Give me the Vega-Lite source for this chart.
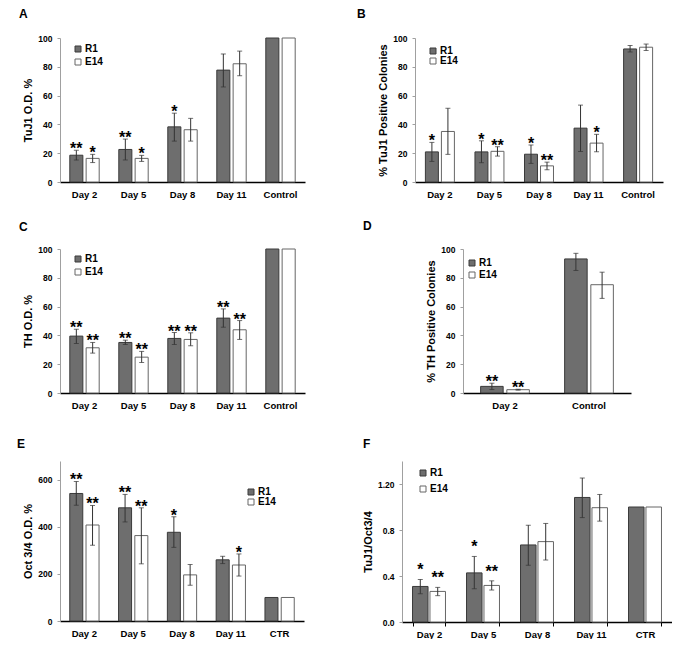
{
  "$schema": "https://vega.github.io/schema/vega-lite/v6.json",
  "padding": {"left": 17, "top": 8, "right": 0, "bottom": 0},
  "background": "white",
  "config": {
    "font": "Liberation Sans",
    "view": {"stroke": null},
    "title": {"anchor": "start", "frame": "group", "fontSize": 12, "fontWeight": "bold", "color": "black"},
    "axisX": {"domainColor": "black", "domainWidth": 1.5, "ticks": false, "labelAngle": 0, "labelFontSize": 9.5, "labelFontWeight": "bold", "labelColor": "black", "labelPadding": 7, "title": null, "grid": false},
    "axisY": {"domainColor": "#a0a0a0", "tickColor": "#a0a0a0", "tickSize": 3, "labelPadding": 5, "labelFontSize": 8.5, "labelFontWeight": "bold", "labelColor": "black", "labelOverlap": false, "titleFontSize": 11, "titleFontWeight": "bold", "titleColor": "black", "titlePadding": 4, "grid": false},
    "legend": {"orient": "none", "title": null, "symbolType": "square", "symbolSize": 36, "labelFontSize": 10, "labelFontWeight": "bold", "labelColor": "black", "padding": 0, "symbolStrokeWidth": 1, "labelOffset": 2},
    "text": {"font": "Liberation Sans"}
  },
  "datasets": {
    "d": [
      {"panel": "A", "cat": "Day 2", "grp": "R1", "value": 18.6, "lo": 15.2, "hi": 22.0, "sig": "**"},
      {"panel": "A", "cat": "Day 2", "grp": "E14", "value": 16.4, "lo": 13.5, "hi": 19.2, "sig": "*"},
      {"panel": "A", "cat": "Day 5", "grp": "R1", "value": 22.6, "lo": 15.3, "hi": 29.8, "sig": "**"},
      {"panel": "A", "cat": "Day 5", "grp": "E14", "value": 16.4, "lo": 14.3, "hi": 18.5, "sig": "*"},
      {"panel": "A", "cat": "Day 8", "grp": "R1", "value": 38.3, "lo": 28.4, "hi": 47.8, "sig": "*"},
      {"panel": "A", "cat": "Day 8", "grp": "E14", "value": 36.3, "lo": 28.4, "hi": 44.2, "sig": ""},
      {"panel": "A", "cat": "Day 11", "grp": "R1", "value": 77.7, "lo": 66.0, "hi": 88.9, "sig": ""},
      {"panel": "A", "cat": "Day 11", "grp": "E14", "value": 82.1, "lo": 73.8, "hi": 90.9, "sig": ""},
      {"panel": "A", "cat": "Control", "grp": "R1", "value": 100, "lo": null, "hi": null, "sig": ""},
      {"panel": "A", "cat": "Control", "grp": "E14", "value": 100, "lo": null, "hi": null, "sig": ""},

      {"panel": "B", "cat": "Day 2", "grp": "R1", "value": 20.9, "lo": 14.3, "hi": 27.5, "sig": "*"},
      {"panel": "B", "cat": "Day 2", "grp": "E14", "value": 35.1, "lo": 19.2, "hi": 51.2, "sig": ""},
      {"panel": "B", "cat": "Day 5", "grp": "R1", "value": 20.9, "lo": 13.4, "hi": 28.6, "sig": "*"},
      {"panel": "B", "cat": "Day 5", "grp": "E14", "value": 21.3, "lo": 18.0, "hi": 24.5, "sig": "**"},
      {"panel": "B", "cat": "Day 8", "grp": "R1", "value": 19.3, "lo": 12.9, "hi": 25.7, "sig": "*"},
      {"panel": "B", "cat": "Day 8", "grp": "E14", "value": 11.2, "lo": 8.5, "hi": 13.8, "sig": "**"},
      {"panel": "B", "cat": "Day 11", "grp": "R1", "value": 37.4, "lo": 21.2, "hi": 53.4, "sig": ""},
      {"panel": "B", "cat": "Day 11", "grp": "E14", "value": 27.0, "lo": 21.0, "hi": 33.1, "sig": "*"},
      {"panel": "B", "cat": "Control", "grp": "R1", "value": 92.4, "lo": 90.3, "hi": 94.8, "sig": ""},
      {"panel": "B", "cat": "Control", "grp": "E14", "value": 93.6, "lo": 91.3, "hi": 95.8, "sig": ""},

      {"panel": "C", "cat": "Day 2", "grp": "R1", "value": 39.5, "lo": 34.4, "hi": 44.3, "sig": "**"},
      {"panel": "C", "cat": "Day 2", "grp": "E14", "value": 31.4, "lo": 27.7, "hi": 35.1, "sig": "**"},
      {"panel": "C", "cat": "Day 5", "grp": "R1", "value": 35.1, "lo": 33.7, "hi": 36.7, "sig": "**"},
      {"panel": "C", "cat": "Day 5", "grp": "E14", "value": 24.9, "lo": 21.2, "hi": 28.9, "sig": "**"},
      {"panel": "C", "cat": "Day 8", "grp": "R1", "value": 37.9, "lo": 33.7, "hi": 42.0, "sig": "**"},
      {"panel": "C", "cat": "Day 8", "grp": "E14", "value": 37.2, "lo": 32.8, "hi": 41.8, "sig": "**"},
      {"panel": "C", "cat": "Day 11", "grp": "R1", "value": 52.0, "lo": 45.7, "hi": 58.4, "sig": "**"},
      {"panel": "C", "cat": "Day 11", "grp": "E14", "value": 43.9, "lo": 37.2, "hi": 50.3, "sig": "**"},
      {"panel": "C", "cat": "Control", "grp": "R1", "value": 100, "lo": null, "hi": null, "sig": ""},
      {"panel": "C", "cat": "Control", "grp": "E14", "value": 100, "lo": null, "hi": null, "sig": ""},

      {"panel": "D", "cat": "Day 2", "grp": "R1", "value": 4.6, "lo": 2.4, "hi": 6.8, "sig": "**"},
      {"panel": "D", "cat": "Day 2", "grp": "E14", "value": 2.3, "lo": 2.0, "hi": 2.6, "sig": "**"},
      {"panel": "D", "cat": "Control", "grp": "R1", "value": 93.1, "lo": 85.1, "hi": 97.0, "sig": ""},
      {"panel": "D", "cat": "Control", "grp": "E14", "value": 75.2, "lo": 65.7, "hi": 83.9, "sig": ""},

      {"panel": "E", "cat": "Day 2", "grp": "R1", "value": 542, "lo": 492, "hi": 593, "sig": "**"},
      {"panel": "E", "cat": "Day 2", "grp": "E14", "value": 408, "lo": 322, "hi": 491, "sig": "**"},
      {"panel": "E", "cat": "Day 5", "grp": "R1", "value": 481, "lo": 421, "hi": 538, "sig": "**"},
      {"panel": "E", "cat": "Day 5", "grp": "E14", "value": 363, "lo": 243, "hi": 481, "sig": "**"},
      {"panel": "E", "cat": "Day 8", "grp": "R1", "value": 377, "lo": 313, "hi": 443, "sig": "*"},
      {"panel": "E", "cat": "Day 8", "grp": "E14", "value": 196, "lo": 152, "hi": 240, "sig": ""},
      {"panel": "E", "cat": "Day 11", "grp": "R1", "value": 260, "lo": 244, "hi": 275, "sig": ""},
      {"panel": "E", "cat": "Day 11", "grp": "E14", "value": 238, "lo": 191, "hi": 285, "sig": "*"},
      {"panel": "E", "cat": "CTR", "grp": "R1", "value": 100, "lo": null, "hi": null, "sig": ""},
      {"panel": "E", "cat": "CTR", "grp": "E14", "value": 100, "lo": null, "hi": null, "sig": ""},

      {"panel": "F", "cat": "Day 2", "grp": "R1", "value": 0.309, "lo": 0.246, "hi": 0.370, "sig": "*"},
      {"panel": "F", "cat": "Day 2", "grp": "E14", "value": 0.266, "lo": 0.229, "hi": 0.301, "sig": "**"},
      {"panel": "F", "cat": "Day 5", "grp": "R1", "value": 0.427, "lo": 0.289, "hi": 0.570, "sig": "*"},
      {"panel": "F", "cat": "Day 5", "grp": "E14", "value": 0.318, "lo": 0.278, "hi": 0.358, "sig": "**"},
      {"panel": "F", "cat": "Day 8", "grp": "R1", "value": 0.670, "lo": 0.493, "hi": 0.842, "sig": ""},
      {"panel": "F", "cat": "Day 8", "grp": "E14", "value": 0.699, "lo": 0.539, "hi": 0.857, "sig": ""},
      {"panel": "F", "cat": "Day 11", "grp": "R1", "value": 1.083, "lo": 0.908, "hi": 1.252, "sig": ""},
      {"panel": "F", "cat": "Day 11", "grp": "E14", "value": 0.994, "lo": 0.877, "hi": 1.109, "sig": ""},
      {"panel": "F", "cat": "CTR", "grp": "R1", "value": 1.0, "lo": null, "hi": null, "sig": ""},
      {"panel": "F", "cat": "CTR", "grp": "E14", "value": 1.0, "lo": null, "hi": null, "sig": ""}
    ]
  },
  "resolve": {"scale": {"fill": "independent", "stroke": "independent", "xOffset": "independent"}, "legend": {"fill": "independent", "stroke": "independent"}},
  "vconcat": [
    {
      "resolve": {"scale": {"fill": "independent", "stroke": "independent", "xOffset": "independent"}, "legend": {"fill": "independent", "stroke": "independent"}},
      "vconcat": [
        {
          "resolve": {"scale": {"fill": "independent", "stroke": "independent", "xOffset": "independent"}, "legend": {"fill": "independent", "stroke": "independent"}},
          "hconcat": [
            {
              "title": {"text": "A", "offset": 13, "dx": -41},
              "width": 245, "height": 144,
              "data": {"name": "d"},
              "transform": [{"filter": "datum.panel === 'A'"}],
              "encoding": {
                "x": {"field": "cat", "type": "nominal", "sort": ["Day 2", "Day 5", "Day 8", "Day 11", "Control"], "scale": {"paddingInner": 0.4, "paddingOuter": 0.2}},
                "xOffset": {"field": "grp", "sort": ["R1", "E14"], "scale": {"paddingInner": 0.2}}
              },
              "layer": [
                {"mark": {"type": "bar", "strokeWidth": 1},
                 "encoding": {
                   "y": {"field": "value", "type": "quantitative", "scale": {"domain": [0, 100]}, "axis": {"title": "TuJ1 O.D. %", "values": [0, 20, 40, 60, 80, 100], "labelOverlap": false}},
                   "fill": {"field": "grp", "type": "nominal", "scale": {"domain": ["R1", "E14"], "range": ["#6e6e6e", "#ffffff"]}, "legend": {"legendX": 13, "legendY": 6, "rowPadding": 3}},
                   "stroke": {"field": "grp", "type": "nominal", "scale": {"domain": ["R1", "E14"], "range": ["#3a3a3a", "#666666"]}, "legend": {"legendX": 13, "legendY": 6, "rowPadding": 3}}
                 }},
                {"mark": {"type": "rule", "color": "#333333", "strokeWidth": 1}, "encoding": {"y": {"field": "lo", "type": "quantitative", "axis": {"title": "TuJ1 O.D. %", "values": [0, 20, 40, 60, 80, 100], "labelOverlap": false}}, "y2": {"field": "hi"}}},
                {"mark": {"type": "tick", "color": "#333333", "size": 5, "thickness": 1}, "encoding": {"y": {"field": "lo", "type": "quantitative", "axis": {"title": "TuJ1 O.D. %", "values": [0, 20, 40, 60, 80, 100], "labelOverlap": false}}}},
                {"mark": {"type": "tick", "color": "#333333", "size": 5, "thickness": 1}, "encoding": {"y": {"field": "hi", "type": "quantitative", "axis": {"title": "TuJ1 O.D. %", "values": [0, 20, 40, 60, 80, 100], "labelOverlap": false}}}},
                {"mark": {"type": "text", "fontSize": 16, "fontWeight": "bold", "baseline": "alphabetic", "dy": 4, "color": "black"}, "encoding": {"y": {"field": "hi", "type": "quantitative", "axis": {"title": "TuJ1 O.D. %", "values": [0, 20, 40, 60, 80, 100], "labelOverlap": false}}, "text": {"field": "sig"}}}
              ]
            },
            {
              "title": {"text": "B", "offset": 13, "dx": -58},
              "width": 248, "height": 144,
              "data": {"name": "d"},
              "transform": [{"filter": "datum.panel === 'B'"}],
              "encoding": {
                "x": {"field": "cat", "type": "nominal", "sort": ["Day 2", "Day 5", "Day 8", "Day 11", "Control"], "scale": {"paddingInner": 0.415, "paddingOuter": 0.21}},
                "xOffset": {"field": "grp", "sort": ["R1", "E14"], "scale": {"paddingInner": 0.19}}
              },
              "layer": [
                {"mark": {"type": "bar", "strokeWidth": 1},
                 "encoding": {
                   "y": {"field": "value", "type": "quantitative", "scale": {"domain": [0, 100]}, "axis": {"title": "%  TuJ1 Positive Colonies", "values": [0, 20, 40, 60, 80, 100], "labelOverlap": false}},
                   "fill": {"field": "grp", "type": "nominal", "scale": {"domain": ["R1", "E14"], "range": ["#6e6e6e", "#ffffff"]}, "legend": {"legendX": 13, "legendY": 8, "rowPadding": 0}},
                   "stroke": {"field": "grp", "type": "nominal", "scale": {"domain": ["R1", "E14"], "range": ["#3a3a3a", "#666666"]}, "legend": {"legendX": 13, "legendY": 8, "rowPadding": 0}}
                 }},
                {"mark": {"type": "rule", "color": "#333333", "strokeWidth": 1}, "encoding": {"y": {"field": "lo", "type": "quantitative", "axis": {"title": "%  TuJ1 Positive Colonies", "values": [0, 20, 40, 60, 80, 100], "labelOverlap": false}}, "y2": {"field": "hi"}}},
                {"mark": {"type": "tick", "color": "#333333", "size": 5, "thickness": 1}, "encoding": {"y": {"field": "lo", "type": "quantitative", "axis": {"title": "%  TuJ1 Positive Colonies", "values": [0, 20, 40, 60, 80, 100], "labelOverlap": false}}}},
                {"mark": {"type": "tick", "color": "#333333", "size": 5, "thickness": 1}, "encoding": {"y": {"field": "hi", "type": "quantitative", "axis": {"title": "%  TuJ1 Positive Colonies", "values": [0, 20, 40, 60, 80, 100], "labelOverlap": false}}}},
                {"mark": {"type": "text", "fontSize": 16, "fontWeight": "bold", "baseline": "alphabetic", "dy": 4, "color": "black"}, "encoding": {"y": {"field": "hi", "type": "quantitative", "axis": {"title": "%  TuJ1 Positive Colonies", "values": [0, 20, 40, 60, 80, 100], "labelOverlap": false}}, "text": {"field": "sig"}}}
              ]
            }
          ],
          "spacing": 52
        },
        {
          "resolve": {"scale": {"fill": "independent", "stroke": "independent", "xOffset": "independent"}, "legend": {"fill": "independent", "stroke": "independent"}},
          "hconcat": [
            {
              "title": {"text": "C", "offset": 11, "dx": -41},
              "width": 245, "height": 144,
              "data": {"name": "d"},
              "transform": [{"filter": "datum.panel === 'C'"}],
              "encoding": {
                "x": {"field": "cat", "type": "nominal", "sort": ["Day 2", "Day 5", "Day 8", "Day 11", "Control"], "scale": {"paddingInner": 0.4, "paddingOuter": 0.2}},
                "xOffset": {"field": "grp", "sort": ["R1", "E14"], "scale": {"paddingInner": 0.2}}
              },
              "layer": [
                {"mark": {"type": "bar", "strokeWidth": 1},
                 "encoding": {
                   "y": {"field": "value", "type": "quantitative", "scale": {"domain": [0, 100]}, "axis": {"title": "TH O.D. %", "values": [0, 20, 40, 60, 80, 100], "labelOverlap": false}},
                   "fill": {"field": "grp", "type": "nominal", "scale": {"domain": ["R1", "E14"], "range": ["#6e6e6e", "#ffffff"]}, "legend": {"legendX": 13, "legendY": 5, "rowPadding": 3}},
                   "stroke": {"field": "grp", "type": "nominal", "scale": {"domain": ["R1", "E14"], "range": ["#3a3a3a", "#666666"]}, "legend": {"legendX": 13, "legendY": 5, "rowPadding": 3}}
                 }},
                {"mark": {"type": "rule", "color": "#333333", "strokeWidth": 1}, "encoding": {"y": {"field": "lo", "type": "quantitative", "axis": {"title": "TH O.D. %", "values": [0, 20, 40, 60, 80, 100], "labelOverlap": false}}, "y2": {"field": "hi"}}},
                {"mark": {"type": "tick", "color": "#333333", "size": 5, "thickness": 1}, "encoding": {"y": {"field": "lo", "type": "quantitative", "axis": {"title": "TH O.D. %", "values": [0, 20, 40, 60, 80, 100], "labelOverlap": false}}}},
                {"mark": {"type": "tick", "color": "#333333", "size": 5, "thickness": 1}, "encoding": {"y": {"field": "hi", "type": "quantitative", "axis": {"title": "TH O.D. %", "values": [0, 20, 40, 60, 80, 100], "labelOverlap": false}}}},
                {"mark": {"type": "text", "fontSize": 16, "fontWeight": "bold", "baseline": "alphabetic", "dy": 4, "color": "black"}, "encoding": {"y": {"field": "hi", "type": "quantitative", "axis": {"title": "TH O.D. %", "values": [0, 20, 40, 60, 80, 100], "labelOverlap": false}}, "text": {"field": "sig"}}}
              ]
            },
            {
              "title": {"text": "D", "offset": 11, "dx": -100},
              "width": 168, "height": 144,
              "data": {"name": "d"},
              "transform": [{"filter": "datum.panel === 'D'"}],
              "encoding": {
                "x": {"field": "cat", "type": "nominal", "sort": ["Day 2", "Control"], "scale": {"paddingInner": 0.42, "paddingOuter": 0.21}},
                "xOffset": {"field": "grp", "sort": ["R1", "E14"], "scale": {"paddingInner": 0.14}}
              },
              "layer": [
                {"mark": {"type": "bar", "strokeWidth": 1},
                 "encoding": {
                   "y": {"field": "value", "type": "quantitative", "scale": {"domain": [0, 100]}, "axis": {"title": "%  TH Positive Colonies", "values": [0, 20, 40, 60, 80, 100], "labelOverlap": false}},
                   "fill": {"field": "grp", "type": "nominal", "scale": {"domain": ["R1", "E14"], "range": ["#6e6e6e", "#ffffff"]}, "legend": {"legendX": 4, "legendY": 9, "rowPadding": 2}},
                   "stroke": {"field": "grp", "type": "nominal", "scale": {"domain": ["R1", "E14"], "range": ["#3a3a3a", "#666666"]}, "legend": {"legendX": 4, "legendY": 9, "rowPadding": 2}}
                 }},
                {"mark": {"type": "rule", "color": "#333333", "strokeWidth": 1}, "encoding": {"y": {"field": "lo", "type": "quantitative", "axis": {"title": "%  TH Positive Colonies", "values": [0, 20, 40, 60, 80, 100], "labelOverlap": false}}, "y2": {"field": "hi"}}},
                {"mark": {"type": "tick", "color": "#333333", "size": 5, "thickness": 1}, "encoding": {"y": {"field": "lo", "type": "quantitative", "axis": {"title": "%  TH Positive Colonies", "values": [0, 20, 40, 60, 80, 100], "labelOverlap": false}}}},
                {"mark": {"type": "tick", "color": "#333333", "size": 5, "thickness": 1}, "encoding": {"y": {"field": "hi", "type": "quantitative", "axis": {"title": "%  TH Positive Colonies", "values": [0, 20, 40, 60, 80, 100], "labelOverlap": false}}}},
                {"mark": {"type": "text", "fontSize": 16, "fontWeight": "bold", "baseline": "alphabetic", "dy": 4, "color": "black"}, "encoding": {"y": {"field": "hi", "type": "quantitative", "axis": {"title": "%  TH Positive Colonies", "values": [0, 20, 40, 60, 80, 100], "labelOverlap": false}}, "text": {"field": "sig"}}}
              ]
            }
          ],
          "spacing": 58
        }
      ],
      "spacing": 21
    },
    {
      "resolve": {"scale": {"fill": "independent", "stroke": "independent", "xOffset": "independent"}, "legend": {"fill": "independent", "stroke": "independent"}},
      "hconcat": [
        {
          "title": {"text": "E", "offset": 10, "dx": -43},
          "width": 244, "height": 160,
          "data": {"name": "d"},
          "transform": [{"filter": "datum.panel === 'E'"}],
          "encoding": {
            "x": {"field": "cat", "type": "nominal", "sort": ["Day 2", "Day 5", "Day 8", "Day 11", "CTR"], "scale": {"paddingInner": 0.4, "paddingOuter": 0.2}},
            "xOffset": {"field": "grp", "sort": ["R1", "E14"], "scale": {"paddingInner": 0.2}}
          },
          "layer": [
            {"mark": {"type": "bar", "strokeWidth": 1},
             "encoding": {
               "y": {"field": "value", "type": "quantitative", "scale": {"domain": [0, 680], "nice": false}, "axis": {"title": "Oct 3/4  O.D. %", "values": [0, 200, 400, 600], "labelOverlap": false}},
               "fill": {"field": "grp", "type": "nominal", "scale": {"domain": ["R1", "E14"], "range": ["#6e6e6e", "#ffffff"]}, "legend": {"legendX": 186, "legendY": 26, "rowPadding": 0}},
               "stroke": {"field": "grp", "type": "nominal", "scale": {"domain": ["R1", "E14"], "range": ["#3a3a3a", "#666666"]}, "legend": {"legendX": 186, "legendY": 26, "rowPadding": 0}}
             }},
            {"mark": {"type": "rule", "color": "#333333", "strokeWidth": 1}, "encoding": {"y": {"field": "lo", "type": "quantitative"}, "y2": {"field": "hi"}}},
            {"mark": {"type": "tick", "color": "#333333", "size": 5, "thickness": 1}, "encoding": {"y": {"field": "lo", "type": "quantitative"}}},
            {"mark": {"type": "tick", "color": "#333333", "size": 5, "thickness": 1}, "encoding": {"y": {"field": "hi", "type": "quantitative"}}},
            {"mark": {"type": "text", "fontSize": 16, "fontWeight": "bold", "baseline": "alphabetic", "dy": 4, "color": "black"}, "encoding": {"y": {"field": "hi", "type": "quantitative"}, "text": {"field": "sig"}}}
          ]
        },
        {
          "title": {"text": "F", "offset": 10, "dx": -39},
          "width": 270, "height": 161,
          "data": {"name": "d"},
          "transform": [{"filter": "datum.panel === 'F'"}],
          "encoding": {
            "x": {"field": "cat", "type": "nominal", "sort": ["Day 2", "Day 5", "Day 8", "Day 11", "CTR"], "scale": {"paddingInner": 0.39, "paddingOuter": 0.195}, "axis": {"ticks": true, "tickBand": "extent", "tickColor": "black", "tickSize": 4, "labelPadding": 3}},
            "xOffset": {"field": "grp", "sort": ["R1", "E14"], "scale": {"paddingInner": 0.11}}
          },
          "layer": [
            {"mark": {"type": "bar", "strokeWidth": 1},
             "encoding": {
               "y": {"field": "value", "type": "quantitative", "scale": {"domain": [0, 1.4], "nice": false}, "axis": {"title": "TuJ1/Oct3/4", "values": [0, 0.4, 0.8, 1.2], "labelOverlap": false, "labelExpr": "datum.value == 1.2 ? '1.20' : format(datum.value, '.1f')"}},
               "fill": {"field": "grp", "type": "nominal", "scale": {"domain": ["R1", "E14"], "range": ["#6e6e6e", "#ffffff"]}, "legend": {"legendX": 16, "legendY": 7, "rowPadding": 6}},
               "stroke": {"field": "grp", "type": "nominal", "scale": {"domain": ["R1", "E14"], "range": ["#3a3a3a", "#666666"]}, "legend": {"legendX": 16, "legendY": 7, "rowPadding": 6}}
             }},
            {"mark": {"type": "rule", "color": "#333333", "strokeWidth": 1}, "encoding": {"y": {"field": "lo", "type": "quantitative"}, "y2": {"field": "hi"}}},
            {"mark": {"type": "tick", "color": "#333333", "size": 5, "thickness": 1}, "encoding": {"y": {"field": "lo", "type": "quantitative"}}},
            {"mark": {"type": "tick", "color": "#333333", "size": 5, "thickness": 1}, "encoding": {"y": {"field": "hi", "type": "quantitative"}}},
            {"mark": {"type": "text", "fontSize": 16, "fontWeight": "bold", "baseline": "alphabetic", "dy": -4, "color": "black"}, "encoding": {"y": {"field": "hi", "type": "quantitative"}, "text": {"field": "sig"}}}
          ]
        }
      ],
      "spacing": 58
    }
  ],
  "spacing": 28
}
